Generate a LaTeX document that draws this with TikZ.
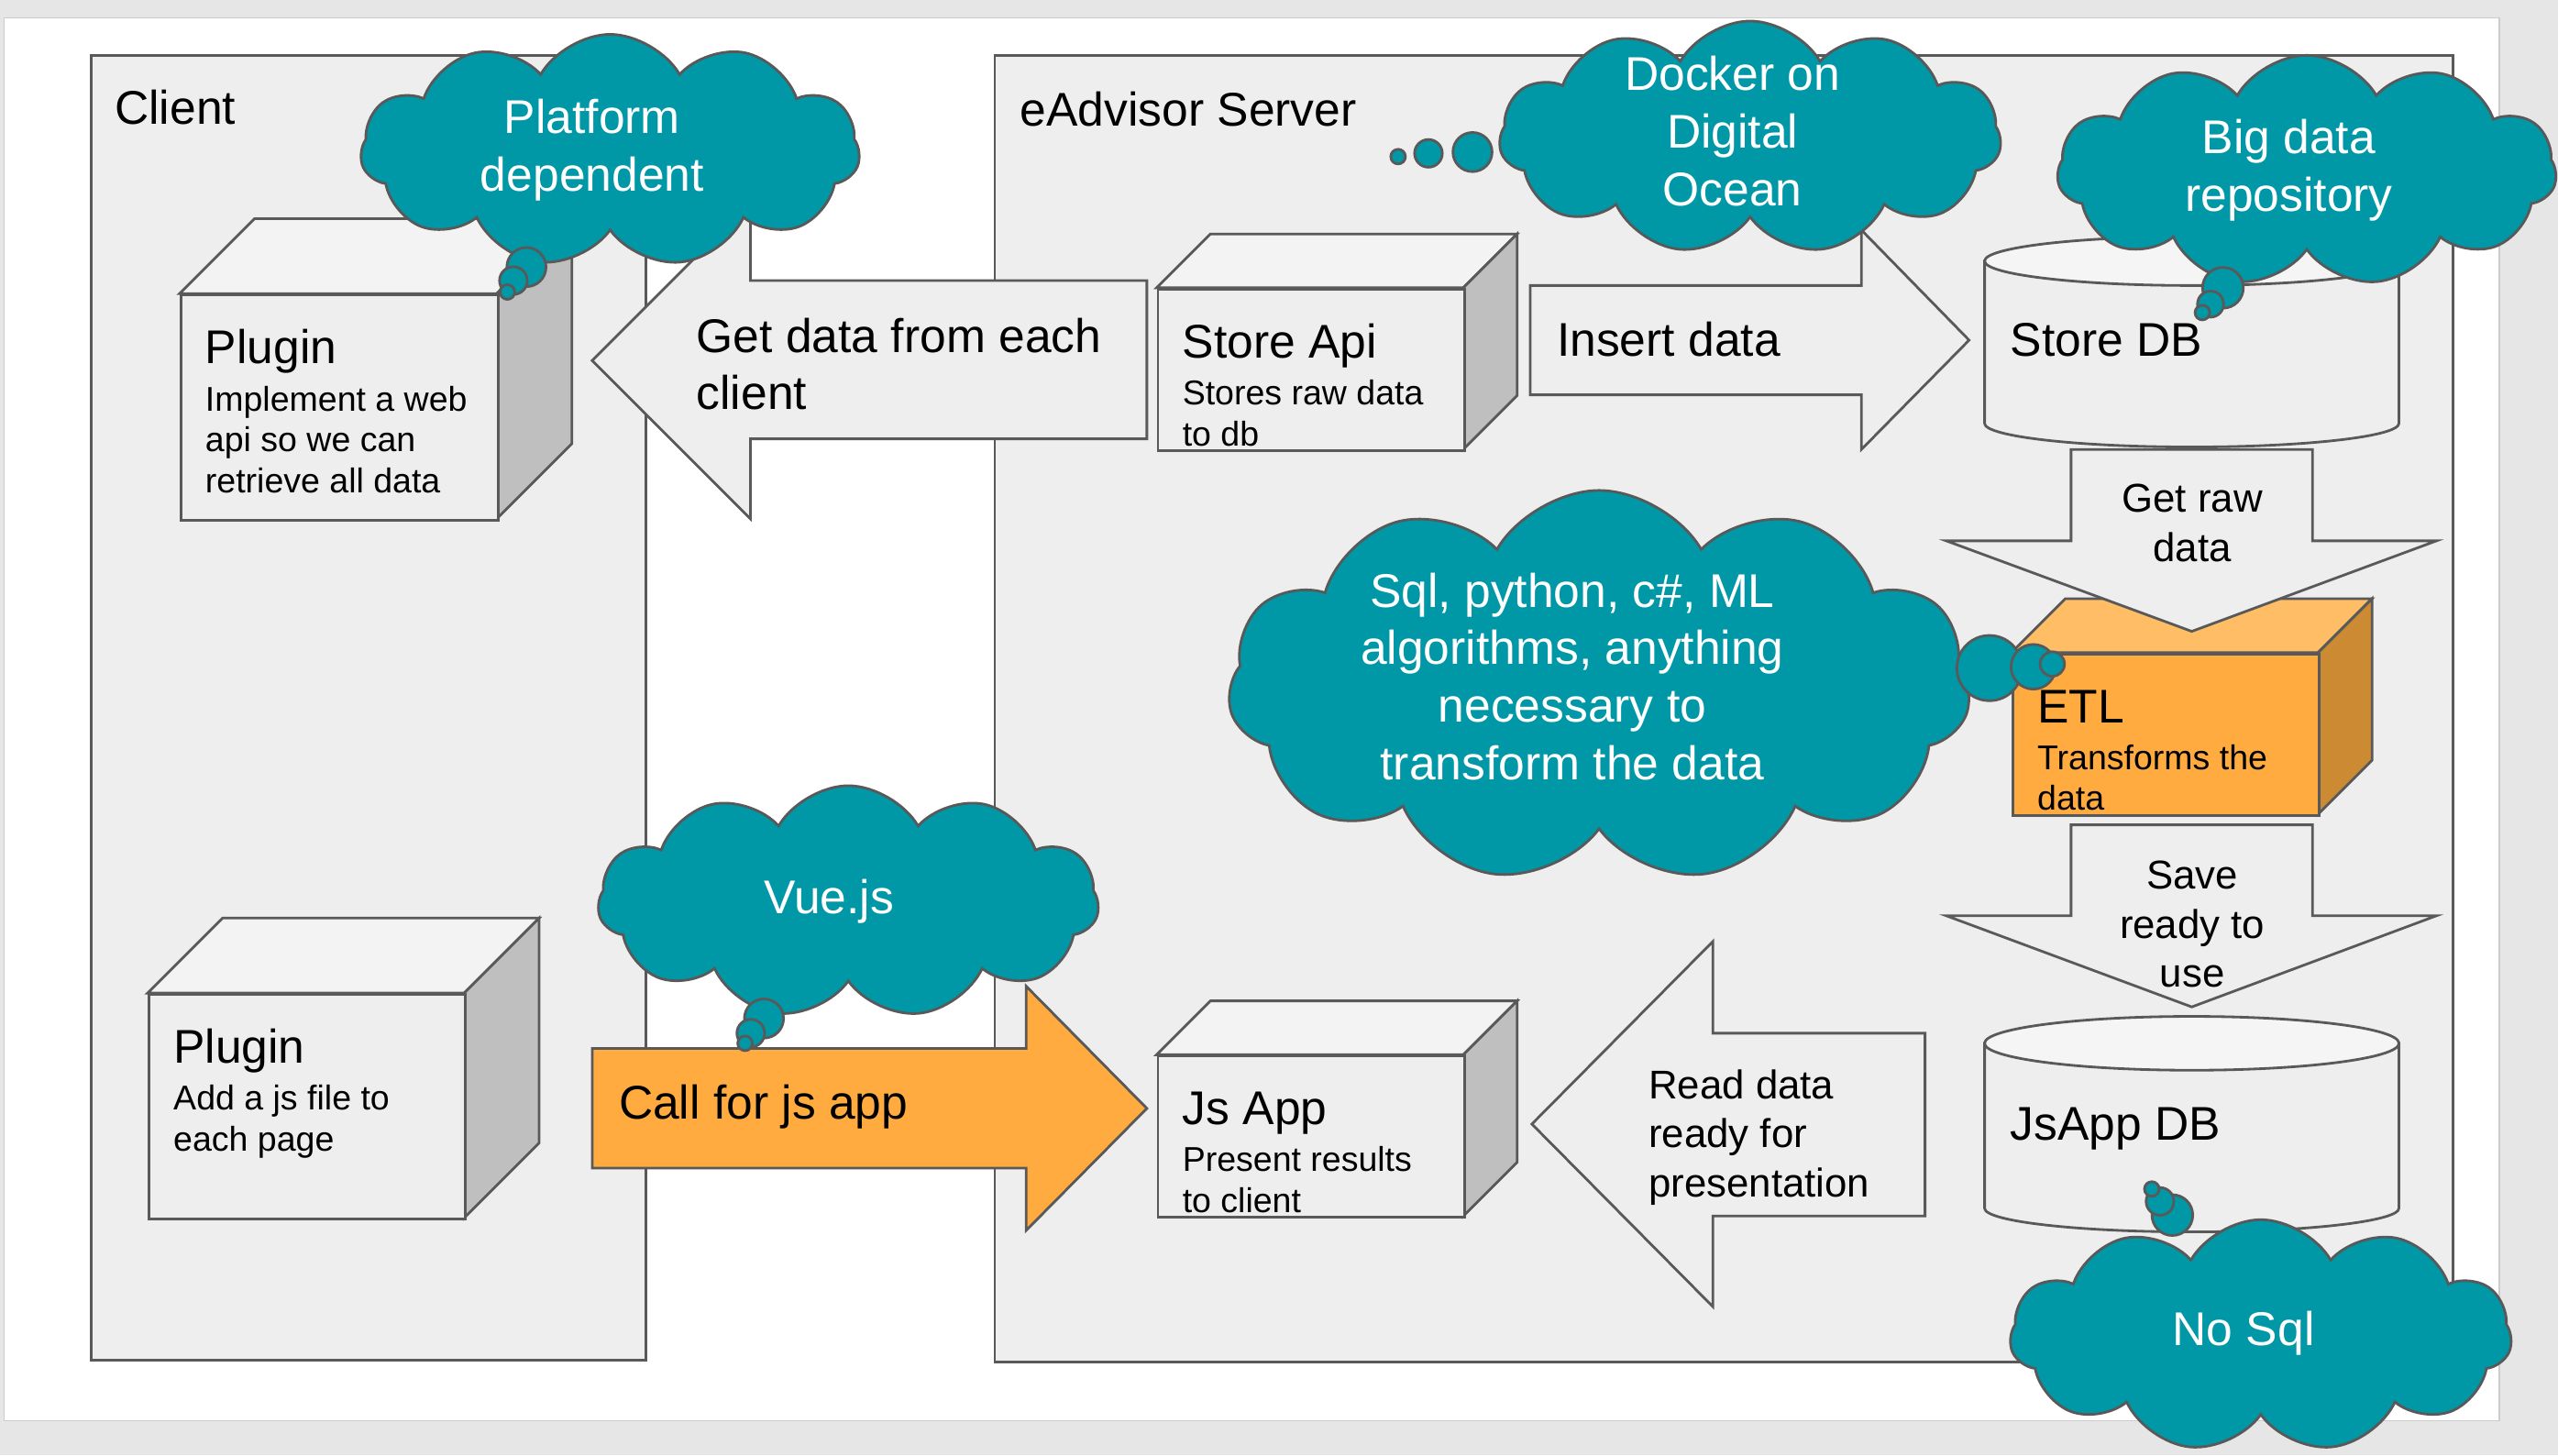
\documentclass[tikz,border=0pt]{standalone}
\usepackage{fontspec}
\setmainfont{Liberation Sans}
\usepackage{tikz}
\usetikzlibrary{shapes,shapes.symbols}
\usetikzlibrary{calc}
\usetikzlibrary{positioning}

\definecolor{pagegray}{HTML}{E6E6E6}
\definecolor{linegray}{HTML}{595959}
\definecolor{boxgray}{HTML}{EEEEEE}
\definecolor{dbtop}{HTML}{F5F5F5}
\definecolor{frontgray}{HTML}{EEEEEE}
\definecolor{topgray}{HTML}{F3F3F3}
\definecolor{sidegray}{HTML}{BFBFBF}
\definecolor{frontorange}{HTML}{FFAB40}
\definecolor{toporange}{HTML}{FFBD66}
\definecolor{sideorange}{HTML}{CC8A33}
\definecolor{callorange}{HTML}{FFAB40}
\definecolor{cloudteal}{HTML}{0097A7}

\begin{document}
\begin{tikzpicture}[x=0.02cm, y=-0.02cm,
    panel/.style={draw=linegray, fill=boxgray, line width=0.9pt, inner sep=0pt},
    cubeline/.style={draw=linegray, line width=0.9pt, line join=miter, inner sep=0pt},
    blockarrow/.style={draw=linegray, fill=boxgray, line width=0.9pt, line join=miter},
    cloudshape/.style={cloud, cloud puffs=11, cloud puff arc=120, cloud ignores aspect, draw=linegray, fill=cloudteal, line width=0.9pt, inner sep=0pt},
    thought/.style={circle, draw=linegray, fill=cloudteal, line width=0.9pt, inner sep=0pt},
    lbl/.style={inner sep=0pt, align=left, font=\fontsize{16.5}{20.1}\selectfont},
    sublbl/.style={inner sep=0pt, align=left, font=\fontsize{12}{14.3}\selectfont},
    arrowlbl/.style={inner sep=0pt, font=\fontsize{14}{17.1}\selectfont},
    cloudtext/.style={inner sep=0pt, align=center, text=white, font=\fontsize{16.5}{20.1}\selectfont}]

  \def\px{0.02cm};

%page
  \useasboundingbox (0,0) rectangle (1568,892);
  \fill[pagegray] (0,0) rectangle (1568,892);
  \draw[draw=black!20, fill=white] (2.5,11) rectangle (1532,871);

%Client
  \node[panel, anchor=north west, minimum width=340*\px, minimum height=800*\px] (client) at (55,33) {};
  \node[lbl, anchor=base west] (clientlbl) at (70,76) {Client};

%Server
  \node[panel, anchor=north west, minimum width=894*\px, minimum height=801*\px] (server) at (609,33) {};
  \node[lbl, anchor=base west] (serverlbl) at (625,77) {eAdvisor Server};

%DB
    \foreach \name/\yt/\yb/\ryt in {storedb/160/259.5/15, jsappdb/639.5/740.6/16.5} {
        \draw[cubeline, fill=boxgray] (1216.5,\yt) -- (1216.5,\yb) arc[start angle=180, end angle=360, x radius=127*\px, y radius=14.5*\px] -- (1470.5,\yt) -- cycle;
        \draw[cubeline, fill=dbtop] (1343.5,\yt) ellipse[x radius=127*\px, y radius=\ryt*\px];
    }
  \node[lbl, anchor=base west] (storedblbl) at (1232,218.5) {Store DB};
  \node[lbl, anchor=base west] (jsappdblbl) at (1232,698.8) {JsApp DB};

%cubes
    \foreach \name/\xa/\ya/\xb/\yb/\dd/\c in {plugweb/110/180/304.5/318/46/gray, plugjs/90.5/608.7/284.5/746.5/46/gray, storeapi/709/176.4/897/275.4/33/gray, jsapp/709/646.5/897/745.4/33/gray, etl/1233/400/1421/499/33/orange} {
        \draw[cubeline, fill=top\c] (\xa,\ya) -- ++(\dd,-\dd) -- ++(\xb-\xa,0) -- (\xb,\ya) -- cycle;
        \draw[cubeline, fill=side\c] (\xb,\ya) -- ++(\dd,-\dd) -- ++(0,\yb-\ya) -- (\xb,\yb) -- cycle;
        \node[cubeline, fill=front\c, anchor=north west, minimum width={(\xb-\xa)*\px}, minimum height={(\yb-\ya)*\px}] (\name) at (\xa,\ya) {};
    }

% last line of the sub text sits at \sy below the top
    \foreach \name/\ttl/\sy/\subt in {plugweb/Plugin/122.1/{Implement a web\\api so we can\\retrieve all data}, plugjs/Plugin/96.8/{Add a js file to\\each page}, storeapi/Store Api/96.8/{Stores raw data\\to db}, jsapp/Js App/96.8/{Present results\\to client}, etl/ETL/96.8/{Transforms the\\data}} {
        \node[lbl, anchor=base west] (\name-t) at ([shift={(15.5,43)}]\name.north west) {\ttl};
        \node[sublbl, anchor=base west] (\name-s) at ([shift={(15.5,\sy)}]\name.north west) {\subt};
    }

%Get data
  \draw[blockarrow] (363,221) -- (460,124) -- (460,172) -- (703,172) -- (703,269) -- (460,269) -- (460,318) -- cycle;
  \node[lbl, anchor=base west] (getdatalbl) at (426.6,251.2) {Get data from each\\client};

%Insert
  \draw[blockarrow] (938,175) -- (1141,175) -- (1141,141) -- (1207,208.5) -- (1141,275.5) -- (1141,242) -- (938,242) -- cycle;
  \node[lbl, anchor=base west] (insertlbl) at (954,218.5) {Insert data};

%Get raw
  \draw[blockarrow] (1269.5,275.5) -- (1417.5,275.5) -- (1417.5,331.5) -- (1493.5,331.5) -- (1343.5,387) -- (1193,331.5) -- (1269.5,331.5) -- cycle;
  \node[arrowlbl, align=center, anchor=base] (getrawlbl) at (1343.8,344) {Get raw\\data};

%Save
  \draw[blockarrow] (1269.5,505.6) -- (1417.5,505.6) -- (1417.5,561.3) -- (1493.5,561.3) -- (1343.5,617.2) -- (1193,561.3) -- (1269.5,561.3) -- cycle;
  \node[arrowlbl, align=center, anchor=base] (savelbl) at (1343.8,605) {Save\\ready to\\use};

%Read
  \draw[blockarrow] (939,689) -- (1050,577) -- (1050,633.3) -- (1180,633.3) -- (1180,745.4) -- (1050,745.4) -- (1050,801) -- cycle;
  \node[arrowlbl, align=left, anchor=base west] (readlbl) at (1010.3,733.6) {Read data\\ready for\\presentation};

%Call
  \draw[blockarrow, fill=callorange] (363,642.6) -- (629,642.6) -- (629,604.5) -- (703,679.4) -- (629,754.2) -- (629,716) -- (363,716) -- cycle;
  \node[lbl, anchor=base west] (calllbl) at (379,685.8) {Call for js app};

%clouds
    \foreach \name/\cx/\cy/\w/\h in {platform/374/92.3/306/142.5, docker/1072.8/84.3/307.6/142.8, bigdata/1414/104.7/306/141.6, sql/980.2/420.6/455/240, vue/520/552.8/307/142.4, nosql/1385.8/818.7/307.5/142.2} {
        \node[cloudshape, minimum width=\w*\px, minimum height=\h*\px] (\name) at (\cx,\cy) {};
    }

    \foreach \name/\bx/\by/\r in {platform-a/322.7/163.7/12, platform-b/314.7/172/8.5, platform-c/311/179/4.5,
        docker-a/902.6/93.2/12, docker-b/875.6/94/8.5, docker-c/857/96/4.5,
        bigdata-a/1362.6/176.4/12.5, bigdata-b/1355/186.4/8, bigdata-c/1350/191.6/4.5,
        sql-a/1219.5/409.5/20, sql-b/1246.4/408.7/13.7, sql-c/1258/407/7.5,
        vue-a/468.3/624.3/12, vue-b/460.2/633.3/8.5, vue-c/456.7/639.5/4.5,
        nosql-a/1331.6/744.8/12.5, nosql-b/1324/736.4/8.5, nosql-c/1319/728.8/4.5} {
        \node[thought, minimum size=2*\r*\px] (\name) at (\bx,\by) {};
    }

% texts, base = last line
  \node[cloudtext, anchor=base] (platformtxt) at (363,117) {Platform\\dependent};
  \node[cloudtext, anchor=base] (dockertxt) at (1062,126.2) {Docker on\\Digital\\Ocean};
  \node[cloudtext, anchor=base] (bigdatatxt) at (1403,129.6) {Big data\\repository};
  \node[cloudtext, anchor=base] (sqltxt) at (963.8,478) {Sql, python, c\#, ML\\algorithms, anything\\necessary to\\transform the data};
  \node[cloudtext, anchor=base] (vuetxt) at (508.2,559.9) {Vue.js};
  \node[cloudtext, anchor=base] (nosqltxt) at (1375.3,824.5) {No Sql};

   \end{tikzpicture}
\end{document}
